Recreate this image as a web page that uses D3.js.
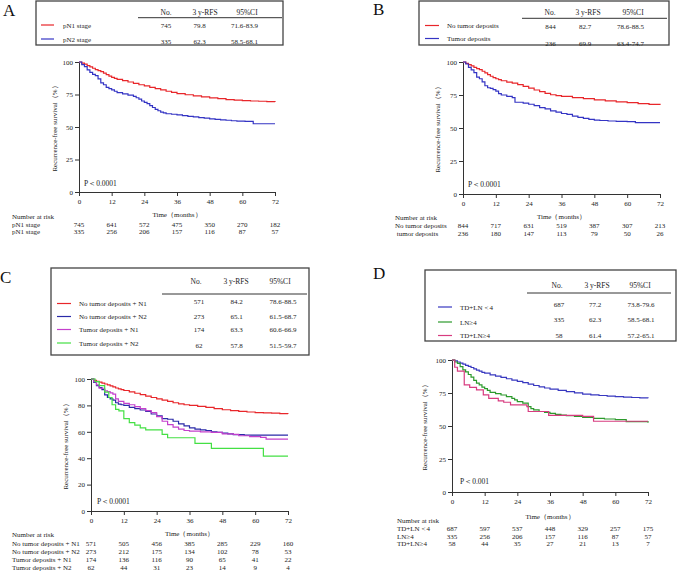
<!DOCTYPE html>
<html><head><meta charset="utf-8">
<script src="https://cdn.jsdelivr.net/npm/d3@7"></script>
<style>body{margin:0;background:#fff}svg{display:block;font-family:"Liberation Serif","Times New Roman",serif}</style>
</head><body><svg id="c" width="679" height="571"></svg>
<script>
// ---------- DATA ----------
const timeTicks = [0, 12, 24, 36, 48, 60, 72];
const yTicks25 = [0, 25, 50, 75, 100];
const yTicks20 = [0, 20, 40, 60, 80, 100];
const headers = ["No.", "3 y-RFS", "95%CI"];

// Panel A
const aGroups = ["pN1 stage", "pN2 stage"];
const aNo = ["745", "335"];
const aRfs = ["79.8", "62.3"];
const aCI = ["71.6-83.9", "58.5-68.1"];
const aRiskLabels = ["pN1 stage", "pN1 stage"];
const aRisk = [[745, 641, 572, 475, 350, 270, 182], [335, 256, 206, 157, 116, 87, 57]];
const aN1 = [[0,100],[1,99.2],[2,98.3],[3,97.2],[4,96.2],[5,95.2],[6,94.2],[7,93.4],[8,92.6],[9,91.5],[10,90.3],[11,89.2],[12,88.2],[13,87.4],[14,86.6],[16,85.6],[18,84.6],[20,83.5],[22,82.5],[24,81.6],[26,80.5],[28,79.5],[30,78.5],[32,77.5],[34,76.6],[36,75.7],[39,74.8],[42,73.9],[45,73.1],[48,72.4],[51,71.8],[54,71.1],[57,70.6],[60,70.3],[63,70.0],[66,69.8],[69,69.5],[72,69.3]];
const aN2 = [[0,100],[1,98],[2,96.5],[3,94],[4,92],[5,90.5],[6,89.5],[7,87],[8,84],[9,82.5],[10,80.5],[11,79.5],[12,78.5],[13,77.5],[14,76.5],[16,75.5],[18,74.5],[20,73.5],[21,72.5],[22,71.5],[23,70],[24,69],[25,68],[26,66.5],[27,65],[28,63.5],[29,62.5],[30,61.5],[31,60.8],[32,60.2],[34,59.8],[36,59.3],[38,58.8],[40,58.2],[42,57.8],[44,57.2],[46,56.8],[48,56.2],[50,55.8],[52,55.5],[54,55.2],[56,54.8],[58,54.5],[61,54.3],[64,52.5],[72,52.5]];

// Panel B
const bGroups = ["No tumor deposits", "Tumor deposits"];
const bNo = ["844", "236"];
const bRfs = ["82.7", "69.9"];
const bCI = ["78.6-88.5", "63.4-74.7"];
const bRiskLabels = ["No tumor deposits", " tumor deposits"];
const bRisk = [[844, 717, 631, 519, 387, 307, 213], [236, 180, 147, 113, 79, 50, 26]];
const bNoTD = [[0,100],[1,99],[2,98],[3,97],[4,96],[5,95],[6,94.2],[7,93],[8,91.8],[9,90.5],[10,89.2],[11,88.2],[12,87.3],[13,86.6],[14,85.8],[16,84.8],[18,84],[20,82.8],[22,81.5],[24,80.2],[26,78.8],[28,77.5],[30,76.2],[32,75.2],[34,74.5],[36,73.9],[40,73],[44,72.2],[48,71.3],[52,70.5],[56,69.8],[60,69.2],[64,68.5],[68,67.9],[72,67.4]];
const bTD = [[0,100],[1,98.5],[2,96],[3,94],[4,92],[5,88.5],[6,87.3],[7,85],[8,82],[9,80.5],[10,80],[11,79],[12,78],[13,76],[14,75],[16,74],[18,73],[19,69.5],[22,68.8],[24,68],[26,67],[28,65.5],[30,64.5],[32,63],[34,62],[36,61],[38,60.3],[40,59],[42,58],[44,57.3],[46,56.5],[48,56],[50,55.7],[53,55.3],[56,55],[60,54.8],[63,54],[72,54]];

// Panel C
const cGroups = ["No tumor deposits + N1", "No tumor deposits + N2", "Tumor deposits + N1", "Tumor deposits + N2"];
const cNo = ["571", "273", "174", "62"];
const cRfs = ["84.2", "65.1", "63.3", "57.8"];
const cCI = ["78.6-88.5", "61.5-68.7", "60.6-66.9", "51.5-59.7"];
const cRiskLabels = cGroups;
const cRisk = [[571, 505, 456, 385, 285, 229, 160], [273, 212, 175, 134, 102, 78, 53], [174, 136, 116, 90, 65, 41, 22], [62, 44, 31, 23, 14, 9, 4]];
const cNoTdN1 = [[0,100],[1,99],[2,98.3],[3,97.6],[4,96.8],[5,96.2],[6,95.6],[7,94.8],[8,94],[9,93.2],[10,92.5],[11,92],[12,91.3],[14,90.2],[16,89.2],[18,88.2],[20,87],[22,86],[24,85],[26,84],[28,83],[30,82],[32,81.2],[34,80.5],[36,80],[39,79.2],[42,78.5],[45,77.5],[48,76.7],[51,76],[54,75.4],[57,75],[60,74.6],[63,74.3],[66,74.1],[69,73.8],[72,73.6]];
const cNoTdN2 = [[0,100],[1,97.5],[2,95],[3,93.5],[4,92],[5,88],[6,86],[7,85],[8,84],[9,82],[10,81],[11,80.5],[12,80],[14,78.5],[16,77.5],[18,76.5],[20,75.5],[22,73.5],[24,72],[26,70],[28,69.5],[30,68],[32,66],[34,64.5],[36,63],[38,62],[40,61.5],[42,61],[44,60],[46,59.5],[48,59],[50,58.5],[52,57.8],[56,57.5],[72,57.5]];
const cTdN1 = [[0,100],[1,98],[2,95.5],[3,93],[5,91],[6,90.5],[7,89.5],[8,88.5],[9,85],[10,83],[12,81.5],[14,80.5],[16,79],[18,77.5],[20,76],[22,74.5],[24,71.5],[26,68],[28,65.5],[30,63.5],[32,62],[34,61],[36,60.5],[40,60],[44,59.5],[48,58.5],[52,58],[54,57],[58,56.3],[62,55.8],[64,54.5],[72,54.5]];
const cTdN2 = [[0,100],[1.5,98],[3,95],[5,90],[6.5,86],[7.7,80.5],[9,77],[10.2,75.8],[12,70],[14,67],[16,65],[18,63],[20,61.5],[26,58],[28,55.5],[38,51.3],[44,47.5],[63,41.6],[72,41.6]];

// Panel D
const dGroups = ["TD+LN＜4", "LN≥4", "TD+LN≥4"];
const dNo = ["687", "335", "58"];
const dRfs = ["77.2", "62.3", "61.4"];
const dCI = ["73.8-79.6", "58.5-68.1", "57.2-65.1"];
const dRiskLabels = dGroups;
const dRisk = [[687, 597, 537, 448, 329, 257, 175], [335, 256, 206, 157, 116, 87, 57], [58, 44, 35, 27, 21, 13, 7]];
const dLow = [[0,100],[1,99.3],[2,98.5],[3,97.7],[4,96.8],[5,96],[6,95.2],[7,94.3],[8,93.3],[9,92.4],[10,91.5],[11,90.7],[12,90],[14,88.8],[16,87.8],[18,86.8],[20,85.8],[22,84.8],[24,83.8],[26,82.8],[28,81.7],[30,80.7],[32,79.7],[34,78.8],[36,78],[39,77],[42,76.1],[45,75.1],[48,74.2],[51,73.6],[54,73.1],[57,72.7],[60,72.3],[63,71.9],[66,71.6],[69,71.3],[72,71]];
const dLn = [[0,100],[1,98.5],[2,97.5],[3,95],[4,92.5],[5,91],[6,89],[7,87],[8,84.5],[9,82.5],[10,81.2],[11,79.5],[12,78.3],[13,77],[14,75.5],[16,74.5],[18,73.5],[20,72.3],[22,71],[23,69.8],[24,68.5],[26,67.3],[28,64.7],[29,63.2],[30,62.2],[32,61],[34,60.3],[36,59.6],[38,58.8],[40,58.3],[42,57.8],[45,57.2],[48,56.6],[52,55.8],[56,55.3],[60,54.8],[64,53.3],[72,52.5]];
const dTdLn = [[0,100],[1,94.5],[2,91.5],[4.5,81.2],[6.5,79.2],[9,77.4],[11.5,73.6],[13.5,71],[17,69],[19,68],[21.5,66],[27.5,64.7],[28,61],[35.5,58],[48,57.3],[52,53.6],[72,53.6]];

// ---------- DRAW ----------
const svg = d3.select("#c");
const FONT = '"Liberation Serif","Times New Roman",serif';

function txt(g, x, y, s, size, anchor) {
  return g.append("text").attr("x", x).attr("y", y).attr("font-size", size)
    .attr("text-anchor", anchor || "start").attr("fill", "#222").text(s);
}

function panel(cfg) {
  const g = svg.append("g");
  // panel letter
  txt(g, cfg.letter[0], cfg.letter[1], cfg.letterText, 17).attr("fill", "#111");
  // legend box
  const b = cfg.box;
  g.append("rect").attr("x", b[0]).attr("y", b[1]).attr("width", b[2]).attr("height", b[3])
    .attr("fill", "none").attr("stroke", "#444").attr("stroke-width", 1.3);
  headers.forEach((h, i) => txt(g, cfg.headX[i], cfg.headY, h, 7.5, "middle"));
  g.append("line").attr("x1", cfg.ul[0]).attr("x2", cfg.ul[1]).attr("y1", cfg.ul[2]).attr("y2", cfg.ul[2])
    .attr("stroke", "#333").attr("stroke-width", 1);
  cfg.groups.forEach((name, i) => {
    g.append("line").attr("x1", cfg.seg[0]).attr("x2", cfg.seg[1])
      .attr("y1", cfg.rowY[i]).attr("y2", cfg.rowY[i])
      .attr("stroke", cfg.colors[i]).attr("stroke-width", 1.2);
    txt(g, cfg.labelX, cfg.rowY[i] + 2.5, name, 7);
    txt(g, cfg.valX[0], cfg.valY[i] + 2.5, cfg.no[i], 7, "middle");
    txt(g, cfg.valX[1], cfg.valY[i] + 2.5, cfg.rfs[i], 7, "middle");
    txt(g, cfg.valX[2], cfg.valY[i] + 2.5, cfg.ci[i], 7, "middle");
  });

  // plot
  const p = cfg.plot;
  const x = d3.scaleLinear().domain([0, 72]).range([p[0], p[1]]);
  const y = d3.scaleLinear().domain([0, 100]).range([p[3], p[2]]);
  const ax = g.append("g").attr("transform", `translate(0,${p[3]})`)
    .call(d3.axisBottom(x).tickValues(timeTicks).tickSize(4).tickSizeOuter(0).tickPadding(3));
  const ay = g.append("g").attr("transform", `translate(${p[0]},0)`)
    .call(d3.axisLeft(y).tickValues(cfg.yTicks).tickSize(4).tickSizeOuter(0).tickPadding(2));
  [ax, ay].forEach(a => {
    a.selectAll("path,line").attr("stroke", "#333").attr("stroke-width", 1);
    a.selectAll("text").attr("font-size", 7).attr("font-family", FONT).attr("fill", "#222");
  });
  // y label
  txt(g, 0, 0, "Recurrence-free survival（%）", 7, "middle")
    .attr("transform", `translate(${cfg.yLabX},${(p[2] + p[3]) / 2}) rotate(-90)`);
  // x title
  txt(g, (p[0] + p[1]) / 2, cfg.xTitleY, "Time（months）", 7, "middle");
  // p value
  txt(g, cfg.pPos[0], cfg.pPos[1], cfg.pText, 7.5);

  // curves
  const line = d3.line().x(d => x(d[0])).y(d => y(d[1])).curve(d3.curveStepAfter);
  cfg.curves.forEach((c, i) => {
    g.append("path").datum(c).attr("d", line).attr("fill", "none")
      .attr("stroke", cfg.colors[i]).attr("stroke-width", 1.2);
  });

  // number at risk
  txt(g, cfg.riskX, cfg.riskY[0], "Number at risk", 7);
  cfg.riskLabels.forEach((lab, i) => {
    txt(g, cfg.riskX, cfg.riskY[i + 1], lab, 7).attr("xml:space", "preserve").style("white-space", "pre");
    cfg.risk[i].forEach((v, j) => txt(g, x(timeTicks[j]), cfg.riskY[i + 1], v, 7, "middle"));
  });
}

panel({
  letterText: "A", letter: [3, 16],
  box: [36, 1, 247, 44], headX: [166, 205, 247], headY: 14.5, ul: [138, 282, 17.7],
  groups: aGroups, no: aNo, rfs: aRfs, ci: aCI,
  colors: ["#e8262a", "#3434c4"],
  seg: [41, 54], labelX: 63, rowY: [25, 39], valY: [25.5, 41], valX: [166, 199.5, 244.5],
  plot: [79, 275, 62, 192], yTicks: yTicks25, yLabX: 57, xTitleY: 216.5,
  pPos: [84, 185.5], pText: "P＜0.0001",
  curves: [aN1, aN2],
  riskX: 12, riskY: [218.5, 226.5, 234], riskLabels: aRiskLabels, risk: aRisk
});

panel({
  letterText: "B", letter: [373, 15],
  box: [419, 1, 250, 44], headX: [550, 588, 633], headY: 14.5, ul: [522, 667, 18.3],
  groups: bGroups, no: bNo, rfs: bRfs, ci: bCI,
  colors: ["#e8262a", "#3434c4"],
  seg: [425, 439], labelX: 447, rowY: [25.5, 38.5], valY: [26, 43], valX: [550.5, 585, 630.5],
  plot: [463, 660, 62, 194], yTicks: yTicks25, yLabX: 440, xTitleY: 218.5,
  pPos: [468, 186.5], pText: "P＜0.0001",
  curves: [bNoTD, bTD],
  riskX: 395, riskY: [219.5, 228, 236], riskLabels: bRiskLabels, risk: bRisk
});

panel({
  letterText: "C", letter: [0, 283],
  box: [51, 268, 258, 87], headX: [196, 236, 280], headY: 283.5, ul: [162, 307, 294],
  groups: cGroups, no: cNo, rfs: cRfs, ci: cCI,
  colors: ["#e8262a", "#2a2aa8", "#c440cc", "#44e044"],
  seg: [57, 71], labelX: 79, rowY: [303.5, 316.5, 329.5, 343], valY: [301, 316, 329.5, 345.5], valX: [199, 236.5, 283],
  plot: [91, 288, 379, 511], yTicks: yTicks20, yLabX: 68, xTitleY: 535.5,
  pPos: [97, 503.5], pText: "P＜0.0001",
  curves: [cNoTdN1, cNoTdN2, cTdN1, cTdN2],
  riskX: 12, riskY: [536.5, 545.5, 553.5, 561.5, 569.5], riskLabels: cRiskLabels, risk: cRisk
});

panel({
  letterText: "D", letter: [373, 279],
  box: [425, 270, 251, 71], headX: [557, 597, 640], headY: 287.5, ul: [527, 671, 293],
  groups: dGroups, no: dNo, rfs: dRfs, ci: dCI,
  colors: ["#3838c0", "#2c9a2c", "#d83c80"],
  seg: [438, 452], labelX: 460, rowY: [307, 322, 335.5], valY: [304, 319.5, 335], valX: [559, 595, 641],
  plot: [452, 648, 360, 492], yTicks: yTicks25, yLabX: 427, xTitleY: 518.5,
  pPos: [460, 483.5], pText: "P＜0.001",
  curves: [dLow, dLn, dTdLn],
  riskX: 397, riskY: [522.5, 530.5, 538.5, 546], riskLabels: dRiskLabels, risk: dRisk
});
</script></body></html>
